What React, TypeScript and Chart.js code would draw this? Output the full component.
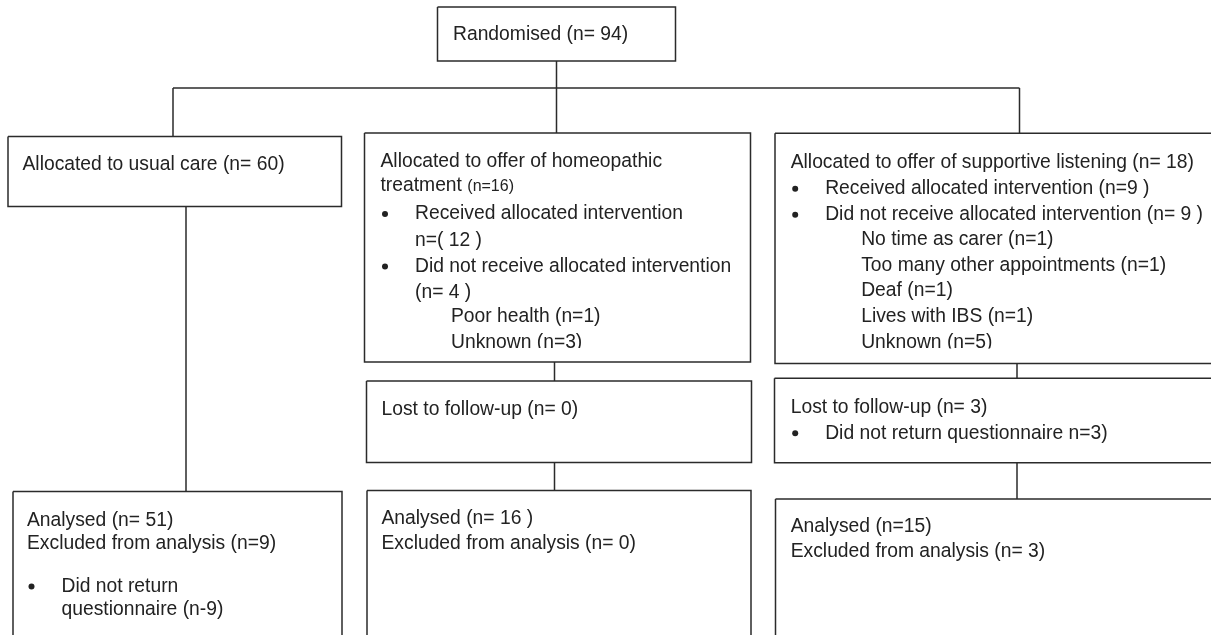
import React, { useEffect, useRef } from "react";
import { Chart, registerables } from "chart.js";

Chart.register(...registerables);

// ---- Content (texts and counts) ----
const randomisedLines = ["Randomised (n= 94)"];
const usualCareLines = ["Allocated to usual care (n= 60)"];
const homeopathyLines = [
  "Allocated to offer of homeopathic",
  "treatment |(n=16)",
  "•Received allocated intervention",
  "-n=( 12 )",
  "•Did not receive allocated intervention",
  "-(n= 4 )",
  "~Poor health (n=1)",
  "~Unknown (n=3)",
];
const listeningLines = [
  "Allocated to offer of supportive listening (n= 18)",
  "•Received allocated intervention (n=9 )",
  "•Did not receive allocated intervention (n= 9 )",
  "~No time as carer (n=1)",
  "~Too many other appointments (n=1)",
  "~Deaf (n=1)",
  "~Lives with IBS (n=1)",
  "~Unknown (n=5)",
];
const lostHomeoLines = ["Lost to follow-up (n= 0)"];
const lostListeningLines = ["Lost to follow-up (n= 3)", "•Did not return questionnaire n=3)"];
const analysedUsualLines = [
  "Analysed (n= 51)",
  "Excluded from analysis (n=9)",
  "",
  "•Did not return",
  "-questionnaire (n-9)",
];
const analysedHomeoLines = ["Analysed (n= 16 )", "Excluded from analysis (n= 0)"];
const analysedListeningLines = ["Analysed (n=15)", "Excluded from analysis (n= 3)"];

// ---- Layout (diagram units = page pixels) ----
type Box = { x0: number; y0: number; x1: number; y1: number; tx: number; ty: number[]; lines: string[]; clip?: number };

const boxes: Box[] = [
  { x0: 437.5, y0: 7, x1: 675.5, y1: 61, tx: 453, ty: [33], lines: randomisedLines },
  { x0: 8, y0: 136.5, x1: 341.5, y1: 206.5, tx: 22.5, ty: [163], lines: usualCareLines },
  { x0: 364.5, y0: 133, x1: 750.5, y1: 362, tx: 380.5, ty: [160.5, 184.5, 212.5, 239, 265, 291, 315.5, 341.5], lines: homeopathyLines, clip: 348 },
  { x0: 775, y0: 133.3, x1: 1216, y1: 363.5, tx: 790.7, ty: [161.5, 187.3, 213.3, 238.5, 264, 289.5, 315, 340.7], lines: listeningLines, clip: 348.5 },
  { x0: 366.5, y0: 381, x1: 751.5, y1: 462.5, tx: 381.5, ty: [408], lines: lostHomeoLines },
  { x0: 774.5, y0: 378.3, x1: 1216, y1: 462.7, tx: 790.7, ty: [406, 431.7], lines: lostListeningLines },
  { x0: 13, y0: 491.5, x1: 342, y1: 645, tx: 27, ty: [519, 542.5, 564, 585, 608], lines: analysedUsualLines },
  { x0: 367, y0: 490.5, x1: 751, y1: 645, tx: 381.5, ty: [517.5, 542.5], lines: analysedHomeoLines },
  { x0: 775.5, y0: 499, x1: 1216, y1: 645, tx: 790.7, ty: [525, 550], lines: analysedListeningLines },
];

const connectors: number[][] = [
  [556.5, 61, 556.5, 133],
  [173, 88, 1019.5, 88],
  [173, 88, 173, 136.5],
  [1019.5, 88, 1019.5, 133.3],
  [186, 206.5, 186, 491.5],
  [554.5, 362, 554.5, 381],
  [554.5, 462.5, 554.5, 490.5],
  [1017, 363.5, 1017, 378.3],
  [1017, 462.7, 1017, 499],
];

const LINE_COLOR = "#2b2b2b";
const TEXT_COLOR = "#222222";
const FONT = '"Liberation Sans", Arial, Helvetica, sans-serif';

const textPlugin = {
  id: "flowText",
  afterDatasetsDraw(chart: any) {
    const ctx: CanvasRenderingContext2D = chart.ctx;
    const xs = chart.scales.x;
    const ys = chart.scales.y;
    ctx.save();
    ctx.fillStyle = TEXT_COLOR;
    ctx.textBaseline = "alphabetic";
    boxes.forEach((b) => {
      ctx.save();
      if (b.clip) {
        ctx.beginPath();
        const cx0 = xs.getPixelForValue(b.x0);
        const cx1 = xs.getPixelForValue(b.x1);
        const cy0 = ys.getPixelForValue(b.y0);
        const cy1 = ys.getPixelForValue(b.clip);
        ctx.rect(cx0, cy0, cx1 - cx0, cy1 - cy0);
        ctx.clip();
      }
      b.lines.forEach((raw, i) => {
        if (!raw) return;
        let text = raw;
        let x = b.tx;
        const yc = ys.getPixelForValue(b.ty[i]);
        const base = yc + 6.8;
        if (text.startsWith("•")) {
          text = text.slice(1);
          ctx.beginPath();
          ctx.arc(xs.getPixelForValue(b.tx + 4.5), yc + 1.5, 3, 0, Math.PI * 2);
          ctx.fill();
          x = b.tx + 34.5;
        } else if (text.startsWith("-")) {
          text = text.slice(1);
          x = b.tx + 34.5;
        } else if (text.startsWith("~")) {
          text = text.slice(1);
          x = b.tx + 70.5;
        }
        const parts = text.split("|");
        let px = xs.getPixelForValue(x);
        parts.forEach((p, k) => {
          ctx.font = `${k === 0 ? 19.3 : 16}px ${FONT}`;
          ctx.fillText(p, px, base);
          px += ctx.measureText(p).width;
        });
      });
      ctx.restore();
    });
    ctx.restore();
  },
};

export default function App() {
  const ref = useRef<HTMLCanvasElement | null>(null);
  useEffect(() => {
    document.body.style.margin = "0";
    const datasets: any[] = [];
    boxes.forEach((b) => {
      datasets.push({
        data: [
          { x: b.x0, y: b.y0 },
          { x: b.x1, y: b.y0 },
          { x: b.x1, y: b.y1 },
          { x: b.x0, y: b.y1 },
          { x: b.x0, y: b.y0 },
        ],
      });
    });
    connectors.forEach((c) => {
      datasets.push({ data: [{ x: c[0], y: c[1] }, { x: c[2], y: c[3] }] });
    });
    datasets.forEach((d) => {
      d.showLine = true;
      d.borderColor = LINE_COLOR;
      d.backgroundColor = LINE_COLOR;
      d.borderWidth = 1.5;
      d.pointRadius = 0;
      d.tension = 0;
      d.fill = false;
      d.borderJoinStyle = "miter";
      d.clip = 0;
    });
    const chart = new Chart(ref.current as HTMLCanvasElement, {
      type: "scatter",
      data: { datasets },
      options: {
        animation: false,
        responsive: false,
        devicePixelRatio: 1,
        events: [],
        layout: { padding: 0 },
        scales: {
          x: { type: "linear", min: 0, max: 1211, display: false },
          y: { type: "linear", min: 0, max: 635, reverse: true, display: false },
        },
        plugins: { legend: { display: false }, tooltip: { enabled: false }, title: { display: false } },
      },
      plugins: [textPlugin],
    });
    return () => chart.destroy();
  }, []);
  return (
    <div style={{ position: "fixed", left: 0, top: 0, width: 1211, height: 635, background: "#fff" }}>
      <canvas ref={ref} width={1211} height={635} style={{ display: "block" }} />
    </div>
  );
}
